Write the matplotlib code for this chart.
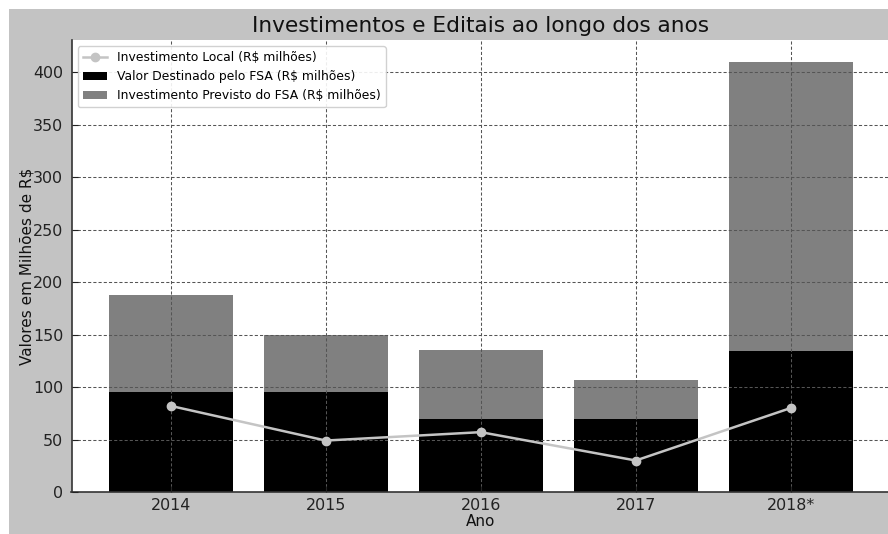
import matplotlib
matplotlib.use("Agg")
import matplotlib.pyplot as plt
from matplotlib.patches import Rectangle
import numpy as np

anos = ["2014", "2015", "2016", "2017", "2018*"]
investimento_local = [82, 49, 57, 30, 80]
valor_destinado_fsa = [95, 95, 70, 70, 134]
investimento_previsto_total = [188, 150, 135, 107, 410]
investimento_previsto_extra = [t - v for t, v in zip(investimento_previsto_total, valor_destinado_fsa)]

W, H = 888, 534
fig = plt.figure(figsize=(W / 100, H / 100), dpi=100, facecolor="white")
fig.patches.append(Rectangle((9 / W, 0), 1 - 9 / W, 1 - 9 / H, transform=fig.transFigure,
                             facecolor="#c3c3c3", edgecolor="none", zorder=-10))

ax = fig.add_axes([71.5 / W, (H - 492) / H, (890 - 71.5) / W, (492 - 40) / H])
ax.set_facecolor("white")

x = np.arange(len(anos))
ax.plot(x, investimento_local, color="#c4c4c4", marker="o", markersize=6, linewidth=1.8,
        label="Investimento Local (R$ milhões)", zorder=3)
ax.bar(x, valor_destinado_fsa, width=0.8, color="black", label="Valor Destinado pelo FSA (R$ milhões)", zorder=1)
ax.bar(x, investimento_previsto_extra, width=0.8, bottom=valor_destinado_fsa, color="#808080",
       label="Investimento Previsto do FSA (R$ milhões)", zorder=1)

ax.set_xticks(x)
ax.set_xticklabels(anos)
ax.set_xlim(-0.64, 4.64)
ax.set_ylim(0, 430.5)
ax.set_yticks(np.arange(0, 401, 50))
ax.tick_params(direction="in", length=4, labelsize=11.4, colors="#222222")
ax.tick_params(axis="x", pad=4)
ax.tick_params(axis="y", pad=6)
ax.set_axisbelow(False)
ax.grid(True, linestyle=(0, (3, 2)), color="#555555", linewidth=0.75, zorder=2)

for side in ("top", "right"):
    ax.spines[side].set_visible(False)
for side in ("left", "bottom"):
    ax.spines[side].set_color("#333333")
    ax.spines[side].set_linewidth(1.2)

ax.set_title("Investimentos e Editais ao longo dos anos", fontsize=15.6, color="#111111", pad=6)
ax.set_xlabel("Ano", fontsize=11, color="#111111", labelpad=1)
ax.set_ylabel("Valores em Milhões de R$", fontsize=11, color="#111111", labelpad=-1)

leg = ax.legend(loc="upper left", fontsize=8.9, frameon=True, fancybox=True, framealpha=0.9,
                edgecolor="#cccccc", borderaxespad=0.5)

fig.savefig("out.png", dpi=100, facecolor=fig.get_facecolor())
